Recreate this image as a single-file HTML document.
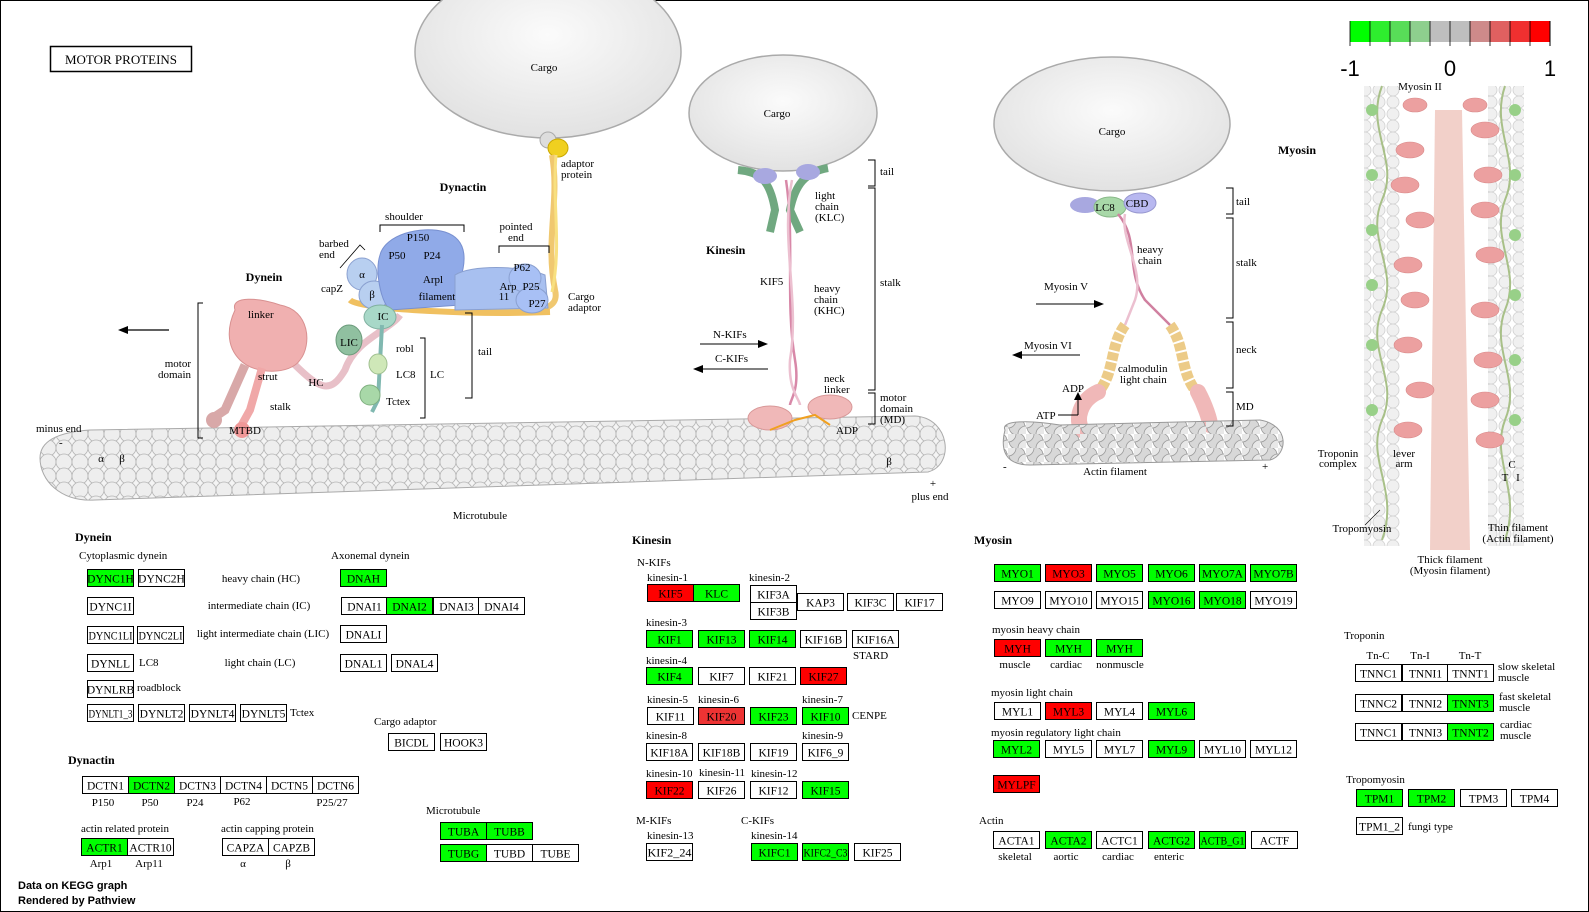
<!DOCTYPE html>
<html><head><meta charset="utf-8">
<style>
html,body{margin:0;padding:0;background:#fff;}
svg{display:block;}
text{font-family:"Liberation Serif",serif;fill:#000;}
.s{font-size:11px;}
.b{font-size:12px;font-weight:bold;}
.g{font-size:11.5px;}
.sans{font-family:"Liberation Sans",sans-serif;}
</style></head>
<body>
<svg id="root" width="1589" height="912" viewBox="0 0 1589 912" xmlns="http://www.w3.org/2000/svg">
<defs>
  <pattern id="mt" width="16" height="14" patternUnits="userSpaceOnUse">
    <circle cx="8" cy="7" r="8" fill="#f4f4f4" stroke="#b4b4b4" stroke-width="0.8"/>
    <circle cx="0" cy="0" r="8" fill="#eeeeee" stroke="#b4b4b4" stroke-width="0.8"/>
    <circle cx="16" cy="0" r="8" fill="#eeeeee" stroke="#b4b4b4" stroke-width="0.8"/>
    <circle cx="0" cy="14" r="8" fill="#eeeeee" stroke="#b4b4b4" stroke-width="0.8"/>
    <circle cx="16" cy="14" r="8" fill="#eeeeee" stroke="#b4b4b4" stroke-width="0.8"/>
  </pattern>
  <pattern id="ac" width="18" height="14" patternUnits="userSpaceOnUse">
    <circle cx="9" cy="7" r="8" fill="#d8d8d8" stroke="#9a9a9a" stroke-width="0.8"/>
    <circle cx="0" cy="0" r="8" fill="#e8e8e8" stroke="#9a9a9a" stroke-width="0.8"/>
    <circle cx="18" cy="14" r="8" fill="#e8e8e8" stroke="#9a9a9a" stroke-width="0.8"/>
  </pattern>
  <pattern id="thin" width="14" height="12" patternUnits="userSpaceOnUse">
    <circle cx="7" cy="6" r="6" fill="#f0f0f0" stroke="#d0d0d0" stroke-width="0.8"/>
  </pattern>
  <radialGradient id="cg" cx="50%" cy="40%" r="60%">
    <stop offset="0" stop-color="#fbfbfb"/><stop offset="1" stop-color="#e2e2e2"/>
  </radialGradient>
</defs>

<rect x="0.5" y="0.5" width="1588" height="911" fill="#fff" stroke="#000" stroke-width="1"/>

<rect x="50.5" y="46.5" width="141" height="25" fill="#fff" stroke="#000" stroke-width="1.5"/>
<text x="121" y="64" text-anchor="middle" style="font-size:13px">MOTOR PROTEINS</text>

<g>
  <path d="M40,458 C40,440 60,432 90,430 L915,416 C950,418 955,465 928,472 L95,500 C60,502 40,480 40,458 Z" fill="url(#mt)" stroke="#aaa"/>
  <text x="480" y="519" text-anchor="middle" class="s">Microtubule</text>
  <text x="36" y="432" class="s">minus end</text>
  <text x="59" y="446" class="s">-</text>
  <text x="101" y="462" text-anchor="middle" class="s">α</text>
  <text x="122" y="462" text-anchor="middle" class="s">β</text>
  <text x="889" y="465" text-anchor="middle" class="s">β</text>
  <text x="933" y="487" text-anchor="middle" class="s">+</text>
  <text x="930" y="500" text-anchor="middle" class="s">plus end</text>
</g>

<g>
  <ellipse cx="548" cy="52" rx="133" ry="86" fill="url(#cg)" stroke="#aaa" stroke-width="1.5"/>
  <text x="544" y="71" text-anchor="middle" class="s">Cargo</text>
  <circle cx="548" cy="140" r="8" fill="#ddd" stroke="#aaa"/>
  <ellipse cx="558" cy="148" rx="10" ry="9" fill="#f0d020" stroke="#c9a800"/>
  <path d="M552,155 C560,200 545,240 555,290 C560,310 540,315 470,310" fill="none" stroke="#f0c870" stroke-width="6"/>
  <path d="M556,155 C552,205 562,245 552,292" fill="none" stroke="#f8e080" stroke-width="3"/>
  <text x="561" y="167" class="s">adaptor</text>
  <text x="561" y="178" class="s">protein</text>
</g>

<g>
  <text x="463" y="191" text-anchor="middle" class="b">Dynactin</text>
  <path d="M350,300 C360,310 480,315 550,312" fill="none" stroke="#f0c060" stroke-width="6"/>
  <ellipse cx="362" cy="274" rx="15" ry="16" fill="#b8cff0" stroke="#8aa0d0"/>
  <ellipse cx="374" cy="295" rx="15" ry="14" fill="#b8cff0" stroke="#8aa0d0"/>
  <path d="M380,255 C385,235 420,225 445,232 C470,240 465,265 460,280 L460,305 L390,310 C380,300 375,270 380,255 Z" fill="#90aae8" stroke="#7890d0"/>
  <path d="M455,275 C470,265 520,265 545,275 L548,308 L455,310 Z" fill="#a8c0f0" stroke="#8aa0d0"/>
  <ellipse cx="525" cy="278" rx="16" ry="14" fill="#a8c0f5" stroke="#8aa0d0"/>
  <ellipse cx="532" cy="300" rx="16" ry="13" fill="#a8c0f5" stroke="#8aa0d0"/>
  <text x="404" y="220" text-anchor="middle" class="s">shoulder</text>
  <path d="M380,232 V225 H464 V232" fill="none" stroke="#000"/>
  <text x="418" y="241" text-anchor="middle" class="s">P150</text>
  <text x="397" y="259" text-anchor="middle" class="s">P50</text>
  <text x="432" y="259" text-anchor="middle" class="s">P24</text>
  <text x="433" y="283" text-anchor="middle" class="s">Arpl</text>
  <text x="437" y="300" text-anchor="middle" class="s">filament</text>
  <text x="516" y="230" text-anchor="middle" class="s">pointed</text>
  <text x="516" y="241" text-anchor="middle" class="s">end</text>
  <path d="M499,253 V246 H549 V253" fill="none" stroke="#000"/>
  <text x="522" y="271" text-anchor="middle" class="s">P62</text>
  <text x="508" y="290" text-anchor="middle" class="s">Arp</text>
  <text x="504" y="300" text-anchor="middle" class="s">11</text>
  <text x="531" y="290" text-anchor="middle" class="s">P25</text>
  <text x="537" y="307" text-anchor="middle" class="s">P27</text>
  <text x="568" y="300" class="s">Cargo</text>
  <text x="568" y="311" class="s">adaptor</text>
  <text x="319" y="247" class="s">barbed</text>
  <text x="319" y="258" class="s">end</text>
  <path d="M340,268 L360,245 L365,250" fill="none" stroke="#000" stroke-width="0.8"/>
  <text x="321" y="292" class="s">capZ</text>
  <text x="362" y="278" text-anchor="middle" class="s">α</text>
  <text x="372" y="298" text-anchor="middle" class="s">β</text>
</g>

<g>
  <text x="264" y="281" text-anchor="middle" class="b">Dynein</text>
  <path d="M290,360 C320,390 330,395 345,370 C355,340 390,330 400,315" fill="none" stroke="#e8c0c8" stroke-width="7"/>
  <path d="M235,310 C230,295 260,298 280,305 C310,310 312,345 300,360 C290,375 255,375 240,360 C225,345 228,325 235,310 Z" fill="#f0b0b0" stroke="#d89090"/>
  <path d="M245,365 L225,410 L210,420" fill="none" stroke="#d8a8a8" stroke-width="9"/>
  <path d="M262,368 L250,410 L240,428" fill="none" stroke="#f0a8a8" stroke-width="8"/>
  <circle cx="214" cy="420" r="8" fill="#d8a8a8"/>
  <circle cx="242" cy="430" r="8" fill="#f09898"/>
  <ellipse cx="349" cy="340" rx="13" ry="15" fill="#90c0a0" stroke="#6a9a7a"/>
  <ellipse cx="380" cy="317" rx="16" ry="12" fill="#a8d8c8" stroke="#80b0a0"/>
  <path d="M382,325 L378,400 L372,412" fill="none" stroke="#80b8b0" stroke-width="4"/>
  <ellipse cx="378" cy="364" rx="9" ry="10" fill="#cfe8b8" stroke="#a0c090"/>
  <ellipse cx="370" cy="395" rx="10" ry="10" fill="#a8d8a8" stroke="#80b080"/>
  <text x="248" y="318" class="s">linker</text>
  <text x="258" y="380" class="s">strut</text>
  <text x="316" y="386" text-anchor="middle" class="s">HC</text>
  <text x="270" y="410" class="s">stalk</text>
  <text x="245" y="434" text-anchor="middle" class="s">MTBD</text>
  <text x="383" y="320" text-anchor="middle" class="s">IC</text>
  <text x="349" y="346" text-anchor="middle" class="s">LIC</text>
  <text x="396" y="352" class="s">robl</text>
  <text x="396" y="378" class="s">LC8</text>
  <text x="386" y="405" class="s">Tctex</text>
  <path d="M420,338 H425 V418 H420" fill="none" stroke="#000"/>
  <text x="430" y="378" class="s">LC</text>
  <path d="M465,313 H472 V398 H465" fill="none" stroke="#000"/>
  <text x="478" y="355" class="s">tail</text>
  <path d="M203,303 H198 V438 H203" fill="none" stroke="#000"/>
  <text x="191" y="367" text-anchor="end" class="s">motor</text>
  <text x="191" y="378" text-anchor="end" class="s">domain</text>
  <line x1="169" y1="330" x2="125" y2="330" stroke="#000" stroke-width="1.2"/>
  <polygon points="118,330 128,326 128,334" fill="#000"/>
</g>

<g>
  <ellipse cx="783" cy="113" rx="94" ry="58" fill="url(#cg)" stroke="#aaa" stroke-width="1.5"/>
  <text x="777" y="117" text-anchor="middle" class="s">Cargo</text>
  <path d="M738,170 C760,172 770,180 775,210 L770,232 M828,168 C805,172 795,185 790,210 L800,232" fill="none" stroke="#70a880" stroke-width="8"/>
  <ellipse cx="765" cy="176" rx="12" ry="8" fill="#a8a8e0"/>
  <ellipse cx="808" cy="172" rx="12" ry="8" fill="#a8a8e0"/>
  <path d="M786,180 C795,240 785,300 795,360 C800,390 790,400 790,405" fill="none" stroke="#d888a8" stroke-width="2.5"/>
  <path d="M792,180 C780,240 800,300 790,360 C788,390 800,400 800,405" fill="none" stroke="#ecc0d0" stroke-width="2.5"/>
  <ellipse cx="770" cy="418" rx="22" ry="12" fill="#f0b8b8" stroke="#d89898"/>
  <ellipse cx="830" cy="407" rx="22" ry="12" fill="#f0b8b8" stroke="#d89898"/>
  <path d="M770,430 L795,420 L815,415 L830,425" fill="none" stroke="#f0a020" stroke-width="2"/>
  <path d="M868,160 H875 V186 H868 M868,188 H875 V390 H868 M868,393 H875 V424 H868" fill="none" stroke="#000"/>
  <text x="880" y="175" class="s">tail</text>
  <text x="815" y="199" class="s">light</text><text x="815" y="210" class="s">chain</text><text x="815" y="221" class="s">(KLC)</text>
  <text x="706" y="254" class="b">Kinesin</text>
  <text x="760" y="285" class="s">KIF5</text>
  <text x="814" y="292" class="s">heavy</text><text x="814" y="303" class="s">chain</text><text x="814" y="314" class="s">(KHC)</text>
  <text x="880" y="286" class="s">stalk</text>
  <text x="713" y="338" class="s">N-KIFs</text>
  <line x1="700" y1="344" x2="762" y2="344" stroke="#000"/><polygon points="768,344 758,340 758,348" fill="#000"/>
  <text x="715" y="362" class="s">C-KIFs</text>
  <line x1="700" y1="369" x2="768" y2="369" stroke="#000"/><polygon points="693,369 703,365 703,373" fill="#000"/>
  <text x="824" y="382" class="s">neck</text><text x="824" y="393" class="s">linker</text>
  <text x="880" y="401" class="s">motor</text><text x="880" y="412" class="s">domain</text><text x="880" y="423" class="s">(MD)</text>
  <text x="836" y="434" class="s">ADP</text>
</g>

<g>
  <ellipse cx="1112" cy="124" rx="118" ry="67" fill="url(#cg)" stroke="#aaa" stroke-width="1.5"/>
  <text x="1112" y="135" text-anchor="middle" class="s">Cargo</text>
  <ellipse cx="1085" cy="205" rx="15" ry="8" fill="#a8a8e0"/>
  <ellipse cx="1110" cy="207" rx="16" ry="10" fill="#a8d8a8" stroke="#88b888"/>
  <ellipse cx="1140" cy="203" rx="16" ry="10" fill="#b8b8f0" stroke="#9898d0"/>
  <text x="1105" y="211" text-anchor="middle" class="s">LC8</text>
  <text x="1137" y="207" text-anchor="middle" class="s">CBD</text>
  <path d="M1118,214 C1140,240 1125,270 1145,300 L1170,325" fill="none" stroke="#d080a0" stroke-width="2.5"/>
  <path d="M1125,214 C1120,240 1145,270 1135,300 L1125,325" fill="none" stroke="#ecc0d0" stroke-width="2.5"/>
  <path d="M1125,325 C1110,345 1115,370 1100,390" fill="none" stroke="#eccb88" stroke-width="11" stroke-dasharray="8 2"/>
  <path d="M1170,325 C1185,345 1180,370 1195,390" fill="none" stroke="#eccb88" stroke-width="11" stroke-dasharray="8 2"/>
  <path d="M1098,392 C1080,400 1075,420 1082,430" fill="none" stroke="#f0b8b8" stroke-width="16" stroke-linecap="round"/>
  <path d="M1198,392 C1205,405 1210,420 1210,425" fill="none" stroke="#f0b8b8" stroke-width="16" stroke-linecap="round"/>
  <path d="M1005,430 C1000,420 1030,420 1060,425 L1260,420 C1290,425 1288,455 1270,460 L1030,465 C1005,465 1000,450 1005,430 Z" fill="url(#ac)" stroke="#999"/>
  <path d="M1226,188 H1233 V214 H1226 M1226,218 H1233 V318 H1226 M1226,322 H1233 V388 H1226 M1226,392 H1233 V426 H1226" fill="none" stroke="#000"/>
  <text x="1236" y="205" class="s">tail</text>
  <text x="1236" y="266" class="s">stalk</text>
  <text x="1236" y="353" class="s">neck</text>
  <text x="1236" y="410" class="s">MD</text>
  <text x="1137" y="253" class="s">heavy</text><text x="1138" y="264" class="s">chain</text>
  <text x="1044" y="290" class="s">Myosin V</text>
  <line x1="1036" y1="304" x2="1096" y2="304" stroke="#000"/><polygon points="1104,304 1094,300 1094,308" fill="#000"/>
  <text x="1024" y="349" class="s">Myosin VI</text>
  <line x1="1020" y1="355" x2="1080" y2="355" stroke="#000"/><polygon points="1012,355 1022,351 1022,359" fill="#000"/>
  <text x="1118" y="372" class="s">calmodulin</text><text x="1120" y="383" class="s">light chain</text>
  <text x="1062" y="392" class="s">ADP</text>
  <text x="1036" y="419" class="s">ATP</text>
  <line x1="1058" y1="415" x2="1078" y2="415" stroke="#000"/>
  <line x1="1078" y1="415" x2="1078" y2="398" stroke="#000"/><polygon points="1078,392 1074,400 1082,400" fill="#000"/>
  <text x="1115" y="475" text-anchor="middle" class="s">Actin filament</text>
  <text x="1003" y="470" class="s">-</text>
  <text x="1262" y="470" class="s">+</text>
  <text x="1297" y="154" text-anchor="middle" class="b">Myosin</text>
</g>

<g>
  <text x="1420" y="90" text-anchor="middle" class="s">Myosin II</text>
  <rect x="1364" y="86" width="36" height="460" fill="url(#thin)"/>
  <rect x="1488" y="86" width="36" height="460" fill="url(#thin)"/>
  <path d="M1382,86 C1365,130 1400,160 1382,200 C1365,240 1400,270 1382,310 C1365,350 1400,380 1382,420 C1365,460 1400,490 1382,540" fill="none" stroke="#a8c088" stroke-width="2"/>
  <path d="M1505,86 C1490,130 1522,160 1505,200 C1490,240 1522,270 1505,310 C1490,350 1522,380 1505,420 C1490,460 1522,490 1505,540" fill="none" stroke="#a8c088" stroke-width="2"/>
  <g fill="#98d088">
    <circle cx="1372" cy="110" r="6"/><circle cx="1372" cy="175" r="6"/><circle cx="1372" cy="230" r="6"/><circle cx="1372" cy="285" r="6"/><circle cx="1372" cy="345" r="6"/><circle cx="1372" cy="410" r="6"/>
    <circle cx="1515" cy="110" r="6"/><circle cx="1515" cy="175" r="6"/><circle cx="1515" cy="235" r="6"/><circle cx="1515" cy="295" r="6"/><circle cx="1515" cy="360" r="6"/><circle cx="1515" cy="420" r="6"/>
  </g>
  <path d="M1435,110 L1430,550 L1470,550 L1462,110 Z" fill="#f0c8c0" opacity="0.85"/>
  <g fill="#eca0a0" stroke="#d88888" stroke-width="0.6">
    <ellipse cx="1415" cy="105" rx="12" ry="7"/><ellipse cx="1475" cy="105" rx="12" ry="7"/>
    <ellipse cx="1410" cy="150" rx="14" ry="8"/><ellipse cx="1485" cy="130" rx="14" ry="8"/>
    <ellipse cx="1405" cy="185" rx="14" ry="8"/><ellipse cx="1488" cy="175" rx="14" ry="8"/>
    <ellipse cx="1420" cy="220" rx="14" ry="8"/><ellipse cx="1485" cy="210" rx="14" ry="8"/>
    <ellipse cx="1408" cy="265" rx="14" ry="8"/><ellipse cx="1490" cy="255" rx="14" ry="8"/>
    <ellipse cx="1415" cy="300" rx="14" ry="8"/><ellipse cx="1485" cy="310" rx="14" ry="8"/>
    <ellipse cx="1408" cy="345" rx="14" ry="8"/><ellipse cx="1488" cy="360" rx="14" ry="8"/>
    <ellipse cx="1420" cy="390" rx="14" ry="8"/><ellipse cx="1485" cy="400" rx="14" ry="8"/>
    <ellipse cx="1408" cy="430" rx="14" ry="8"/><ellipse cx="1490" cy="440" rx="14" ry="8"/>
  </g>
  <text x="1338" y="457" text-anchor="middle" class="s">Troponin</text>
  <text x="1338" y="467" text-anchor="middle" class="s">complex</text>
  <text x="1404" y="457" text-anchor="middle" class="s">lever</text>
  <text x="1404" y="467" text-anchor="middle" class="s">arm</text>
  <text x="1512" y="468" text-anchor="middle" class="s">C</text>
  <text x="1505" y="481" text-anchor="middle" class="s">T</text>
  <text x="1518" y="481" text-anchor="middle" class="s">I</text>
  <line x1="1365" y1="525" x2="1380" y2="510" stroke="#000" stroke-width="0.6"/>
  <text x="1362" y="532" text-anchor="middle" class="s">Tropomyosin</text>
  <text x="1518" y="531" text-anchor="middle" class="s">Thin filament</text>
  <text x="1518" y="542" text-anchor="middle" class="s">(Actin filament)</text>
  <text x="1450" y="563" text-anchor="middle" class="s">Thick filament</text>
  <text x="1450" y="574" text-anchor="middle" class="s">(Myosin filament)</text>
</g>

<g id="legend"></g>

<g>
  <text x="75" y="541" class="b">Dynein</text>
  <text x="79" y="559" class="s">Cytoplasmic dynein</text>
  <text x="331" y="559" class="s">Axonemal dynein</text>
  <text x="261" y="582" text-anchor="middle" class="s">heavy chain (HC)</text>
  <text x="259" y="609" text-anchor="middle" class="s">intermediate chain (IC)</text>
  <text x="263" y="637" text-anchor="middle" class="s">light intermediate chain (LIC)</text>
  <text x="139" y="666" class="s">LC8</text>
  <text x="260" y="666" text-anchor="middle" class="s">light chain (LC)</text>
  <text x="137" y="691" class="s">roadblock</text>
  <text x="290" y="716" class="s">Tctex</text>
  <text x="374" y="725" class="s">Cargo adaptor</text>
  <text x="68" y="764" class="b">Dynactin</text>
  <text x="103" y="806" text-anchor="middle" class="s">P150</text>
  <text x="150" y="806" text-anchor="middle" class="s">P50</text>
  <text x="195" y="806" text-anchor="middle" class="s">P24</text>
  <text x="242" y="805" text-anchor="middle" class="s">P62</text>
  <text x="332" y="806" text-anchor="middle" class="s">P25/27</text>
  <text x="81" y="832" class="s">actin related protein</text>
  <text x="221" y="832" class="s">actin capping protein</text>
  <text x="101" y="867" text-anchor="middle" class="s">Arp1</text>
  <text x="149" y="867" text-anchor="middle" class="s">Arp11</text>
  <text x="243" y="867" text-anchor="middle" class="s">α</text>
  <text x="288" y="867" text-anchor="middle" class="s">β</text>
  <text x="426" y="814" class="s">Microtubule</text>

  <text x="632" y="544" class="b">Kinesin</text>
  <text x="637" y="566" class="s">N-KIFs</text>
  <text x="647" y="581" class="s">kinesin-1</text>
  <text x="749" y="581" class="s">kinesin-2</text>
  <text x="646" y="626" class="s">kinesin-3</text>
  <text x="853" y="659" class="s">STARD</text>
  <text x="646" y="664" class="s">kinesin-4</text>
  <text x="647" y="703" class="s">kinesin-5</text>
  <text x="698" y="703" class="s">kinesin-6</text>
  <text x="802" y="703" class="s">kinesin-7</text>
  <text x="852" y="719" class="s">CENPE</text>
  <text x="646" y="739" class="s">kinesin-8</text>
  <text x="802" y="739" class="s">kinesin-9</text>
  <text x="646" y="777" class="s">kinesin-10</text>
  <text x="699" y="776" class="s">kinesin-11</text>
  <text x="751" y="777" class="s">kinesin-12</text>
  <text x="636" y="824" class="s">M-KIFs</text>
  <text x="741" y="824" class="s">C-KIFs</text>
  <text x="647" y="839" class="s">kinesin-13</text>
  <text x="751" y="839" class="s">kinesin-14</text>

  <text x="974" y="544" class="b">Myosin</text>
  <text x="992" y="633" class="s">myosin heavy chain</text>
  <text x="1015" y="668" text-anchor="middle" class="s">muscle</text>
  <text x="1066" y="668" text-anchor="middle" class="s">cardiac</text>
  <text x="1120" y="668" text-anchor="middle" class="s">nonmuscle</text>
  <text x="991" y="696" class="s">myosin light chain</text>
  <text x="991" y="736" class="s">myosin regulatory light chain</text>
  <text x="979" y="824" class="s">Actin</text>
  <text x="1015" y="860" text-anchor="middle" class="s">skeletal</text>
  <text x="1066" y="860" text-anchor="middle" class="s">aortic</text>
  <text x="1118" y="860" text-anchor="middle" class="s">cardiac</text>
  <text x="1169" y="860" text-anchor="middle" class="s">enteric</text>

  <text x="1344" y="639" class="s">Troponin</text>
  <text x="1378" y="659" text-anchor="middle" class="s">Tn-C</text>
  <text x="1420" y="659" text-anchor="middle" class="s">Tn-I</text>
  <text x="1470" y="659" text-anchor="middle" class="s">Tn-T</text>
  <text x="1498" y="670" class="s">slow skeletal</text><text x="1498" y="681" class="s">muscle</text>
  <text x="1499" y="700" class="s">fast skeletal</text><text x="1499" y="711" class="s">muscle</text>
  <text x="1500" y="728" class="s">cardiac</text><text x="1500" y="739" class="s">muscle</text>
  <text x="1346" y="783" class="s">Tropomyosin</text>
  <text x="1408" y="830" class="s">fungi type</text>

  <text x="18" y="889" class="sans" style="font-size:11px;font-weight:bold">Data on KEGG graph</text>
  <text x="18" y="904" class="sans" style="font-size:11px;font-weight:bold">Rendered by Pathview</text>
</g>

<g id="genes"></g>
</svg>

<script>
const legendValues = [-1, 0, 1];
const legendColors = ["#00FF00","#2EEE2E","#58DD58","#8ECF8E","#BEBEBE","#BEBEBE","#CE8A8A","#E06060","#F03030","#FF0000"];

const geneNames = ["DYNC1H","DYNC2H","DNAH","DYNC1I","DNAI1","DNAI2","DNAI3","DNAI4","DYNC1LI","DYNC2LI","DNALI","DYNLL","DNAL1","DNAL4","DYNLRB","DYNLT1_3","DYNLT2","DYNLT4","DYNLT5","BICDL","HOOK3",
"DCTN1","DCTN2","DCTN3","DCTN4","DCTN5","DCTN6","ACTR1","ACTR10","CAPZA","CAPZB","TUBA","TUBB","TUBG","TUBD","TUBE",
"KIF5","KLC","KIF3A","KIF3B","KAP3","KIF3C","KIF17","KIF1","KIF13","KIF14","KIF16B","KIF16A","KIF4","KIF7","KIF21","KIF27","KIF11","KIF20","KIF23","KIF10","KIF18A","KIF18B","KIF19","KIF6_9","KIF22","KIF26","KIF12","KIF15","KIF2_24","KIFC1","KIFC2_C3","KIF25",
"MYO1","MYO3","MYO5","MYO6","MYO7A","MYO7B","MYO9","MYO10","MYO15","MYO16","MYO18","MYO19","MYH","MYH","MYH","MYL1","MYL3","MYL4","MYL6","MYL2","MYL5","MYL7","MYL9","MYL10","MYL12","MYLPF","ACTA1","ACTA2","ACTC1","ACTG2","ACTB_G1","ACTF",
"TNNC1","TNNI1","TNNT1","TNNC2","TNNI2","TNNT3","TNNC1","TNNI3","TNNT2","TPM1","TPM2","TPM3","TPM4","TPM1_2"];
const geneX = [87,138,340,87,341,386,433,478,87,137,340,87,340,391,87,87,138,189,240,388,440,
82,128,174,220,266,312,81,127,222,268,440,486,440,486,532,
647,693,750,750,797,847,896,646,698,749,800,852,646,698,749,800,647,698,750,802,646,698,750,802,646,698,750,802,646,751,802,854,
994,1045,1096,1148,1199,1250,994,1045,1096,1148,1199,1250,994,1045,1096,994,1045,1096,1148,993,1045,1096,1148,1199,1250,993,993,1045,1096,1148,1199,1251,
1355,1402,1447,1355,1402,1447,1355,1402,1447,1356,1408,1460,1511,1356];
const geneY = [569,569,569,597,597,597,597,597,626,626,625,654,654,654,680,704,704,704,704,733,733,
776,776,776,776,776,776,838,838,838,838,822,822,844,844,844,
584,584,585,602,593,593,593,630,630,630,630,630,667,667,667,667,707,707,707,707,743,743,743,743,781,781,781,781,843,843,843,843,
564,564,564,564,564,564,591,591,591,591,591,591,639,639,639,702,702,702,702,740,740,740,740,740,740,775,831,831,831,831,831,831,
664,664,664,694,694,694,723,723,723,789,789,789,789,817];
const geneState = ["g","w","g","w","w","g","w","w","w","w","w","w","w","w","w","w","w","w","w","w","w",
"w","g","w","w","w","w","g","w","w","w","g","g","g","w","w",
"r","g","w","w","w","w","w","g","g","g","w","w","g","w","w","r","w","p","g","g","w","w","w","w","r","w","w","g","w","g","g","w",
"g","r","g","g","g","g","w","w","w","g","g","w","r","g","g","w","r","w","g","g","w","w","g","w","w","r","w","g","w","g","g","w",
"w","w","w","w","w","g","w","w","g","g","g","w","w","w"];

const NS = "http://www.w3.org/2000/svg";
const fillMap = {g:"#00FF00", r:"#FF0000", p:"#EE3333", w:"#FFFFFF"};

const leg = document.getElementById("legend");
const lx0 = 1350, lw = 20, ly = 21, lh = 21;
legendColors.forEach((c, i) => {
  const r = document.createElementNS(NS, "rect");
  r.setAttribute("x", lx0 + i * lw); r.setAttribute("y", ly);
  r.setAttribute("width", lw); r.setAttribute("height", lh);
  r.setAttribute("fill", c);
  
  
  leg.appendChild(r);
  const l = document.createElementNS(NS, "line");
  l.setAttribute("x1", lx0 + i * lw); l.setAttribute("x2", lx0 + i * lw);
  l.setAttribute("y1", ly); l.setAttribute("y2", ly + lh + 4);
  l.setAttribute("stroke", "#000"); l.setAttribute("stroke-width", "0.8");
  leg.appendChild(l);
});
const lend = document.createElementNS(NS, "line");
lend.setAttribute("x1", lx0 + 10 * lw); lend.setAttribute("x2", lx0 + 10 * lw);
lend.setAttribute("y1", ly); lend.setAttribute("y2", ly + lh + 4);
lend.setAttribute("stroke", "#000");
leg.appendChild(lend);
function legX(v){ return lx0 + (v + 1) / 2 * (10 * lw); }
legendValues.forEach(v => {
  const t = document.createElementNS(NS, "text");
  t.setAttribute("x", legX(v)); t.setAttribute("y", 76);
  t.setAttribute("text-anchor", "middle");
  t.setAttribute("class", "sans");
  t.setAttribute("style", "font-size:22px");
  t.textContent = String(v);
  
  
  leg.appendChild(t);
});

const gg = document.getElementById("genes");
geneNames.forEach((name, i) => {
  const g = document.createElementNS(NS, "g");
  
  
  const r = document.createElementNS(NS, "rect");
  r.setAttribute("x", geneX[i] + 0.5); r.setAttribute("y", geneY[i] + 0.5);
  r.setAttribute("width", 46); r.setAttribute("height", 17);
  r.setAttribute("fill", fillMap[geneState[i]]);
  r.setAttribute("stroke", "#000"); r.setAttribute("stroke-width", "1");
  g.appendChild(r);
  const t = document.createElementNS(NS, "text");
  t.setAttribute("x", geneX[i] + 23.5); t.setAttribute("y", geneY[i] + 13.5);
  t.setAttribute("text-anchor", "middle");
  t.setAttribute("class", "g");
  if (name.length > 6) t.setAttribute("textLength", "44");
  if (name.length > 6) t.setAttribute("lengthAdjust", "spacingAndGlyphs");
  t.textContent = name;
  g.appendChild(t);
  gg.appendChild(g);
});
</script>
</body></html>
